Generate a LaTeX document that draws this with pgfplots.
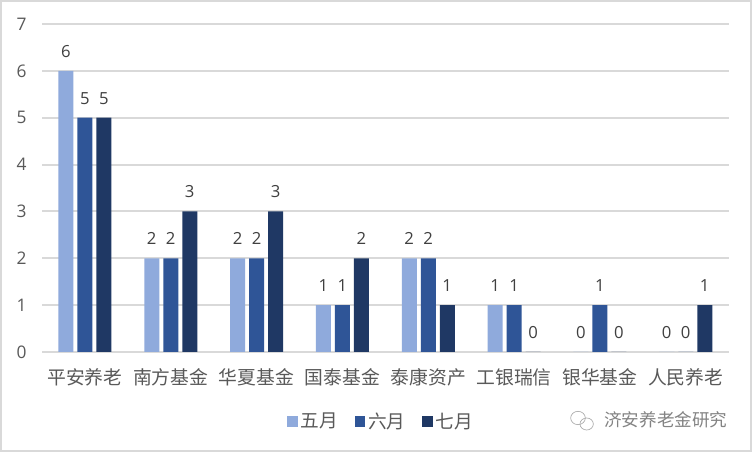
\documentclass[border=0pt]{standalone}
\usepackage{pgfplots}
\pgfplotsset{compat=1.18}
\usepackage{fontspec}
\setmainfont{Open Sans}
\newfontfamily\cjk{Noto Sans CJK SC}[Scale=1.0]
\definecolor{c1}{HTML}{8FAADC}
\definecolor{c2}{HTML}{2F5597}
\definecolor{c3}{HTML}{1F3864}
\definecolor{tx}{HTML}{595959}
\definecolor{dl}{HTML}{404040}
\definecolor{gl}{HTML}{D9D9D9}
\pgfplotstableread{
x a b c
0 6 5 5
1 2 2 3
2 2 2 3
3 1 1 2
4 2 2 1
5 1 1 0
6 0 1 0
7 0 0 1
}\data
\pgfplotsset{sw/.style={legend image code/.code={\fill[#1] (0pt,-4pt) rectangle (8pt,4pt);}}}
\begin{document}
\begin{tikzpicture}[x=1pt,y=1pt]
\path[use as bounding box] (0,0) rectangle (564,339);
\draw[gl,line width=1.5pt,fill=white] (0.75,0.75) rectangle (563.25,338.25);
\begin{axis}[
  at={(31.5pt,75pt)},anchor=south west,
  width=515pt,height=246pt,scale only axis,
  xmin=-0.5,xmax=7.5,ymin=0,ymax=7,
  ybar,bar width=11.25pt,
  axis line style={draw=none},
  axis x line*=bottom,
  axis y line*=left,
  x axis line style={draw=gl,line width=1.5pt,-},
  y axis line style={draw=none,-},
  ymajorgrids,
  grid style={draw=gl,line width=1.5pt},
  tick style={draw=none},
  xtick=data,
  xticklabels={平安养老,南方基金,华夏基金,国泰基金,泰康资产,工银瑞信,银华基金,人民养老},
  ytick={0,...,7},
  yticklabel style={font=\fontsize{13}{16}\selectfont,text=tx,xshift=-8pt},
  xticklabel style={font=\cjk\fontsize{14.1}{16}\selectfont,text=tx,yshift=-4.5pt},
  /pgf/number format/assume math mode=true,
  nodes near coords,
  every node near coord/.append style={font=\fontsize{12.5}{16}\selectfont,text=dl,yshift=6.5pt},
  legend style={at={(254.5pt,-52pt)},anchor=center,draw=none,fill=none,legend columns=3,
    font=\cjk\fontsize{14}{15}\selectfont,text=tx,
    /tikz/every even column/.style={column sep=10.5pt},inner sep=0pt},
  clip=false,
]
\addplot[fill=c1,draw=none,bar shift=-14.25pt,sw=c1] table[x=x,y=a]{\data};
\addlegendentry{五月}
\addplot[fill=c2,draw=none,bar shift=0pt,sw=c2] table[x=x,y=b]{\data};
\addlegendentry{六月}
\addplot[fill=c3,draw=none,bar shift=14.25pt,sw=c3] table[x=x,y=c]{\data};
\addlegendentry{七月}
\end{axis}
\node[anchor=west,text=tx!75,inner sep=0pt,font=\cjk\fontsize{13.2}{15}\selectfont] at (453,24) {济安养老金研究};
\draw[tx!50,line width=0.5pt] (433.5,25.5) ellipse (5.5pt and 5pt);
\draw[tx!50,line width=0.5pt] (440,21) ellipse (5pt and 4.5pt);
\end{tikzpicture}
\end{document}
